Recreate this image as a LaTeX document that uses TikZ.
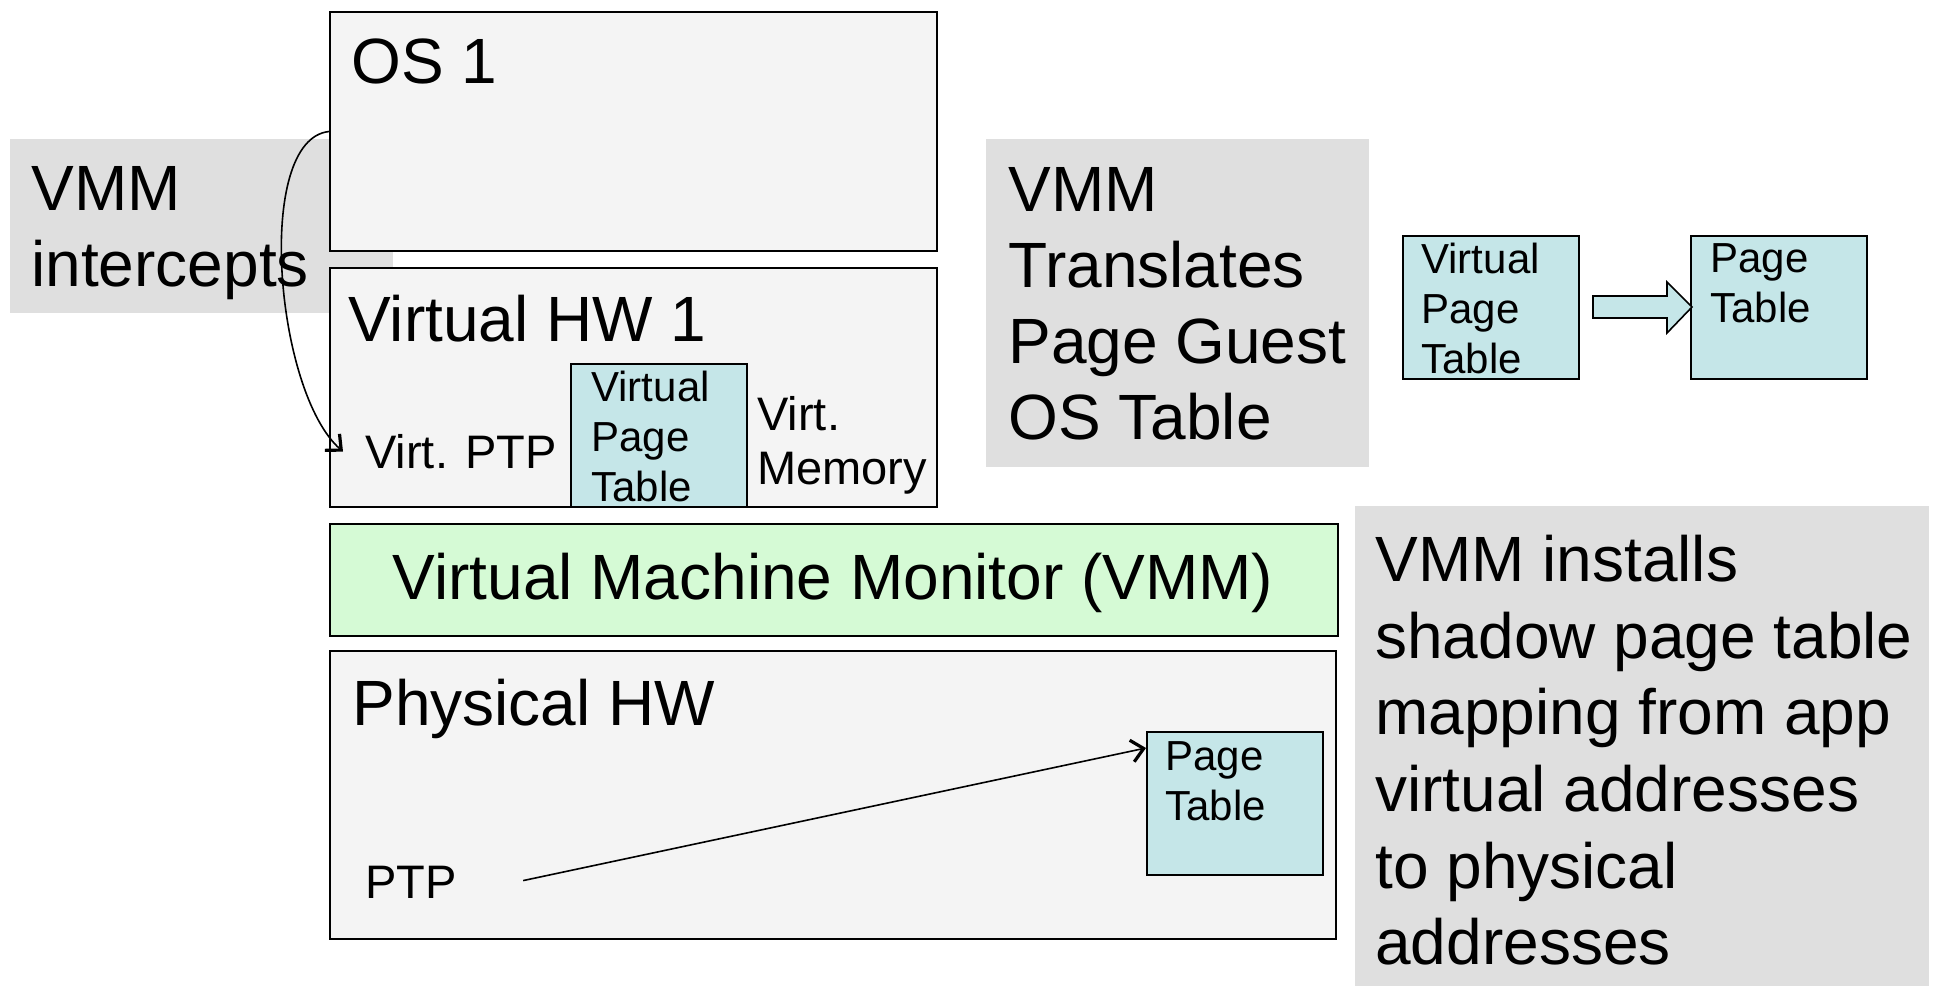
\documentclass[tikz,border=0pt]{standalone}
\usepackage{fontspec}
\setmainfont{Liberation Sans}
\usetikzlibrary{arrows.meta}
\definecolor{boxgray}{HTML}{F4F4F4}
\definecolor{notegray}{HTML}{DFDFDF}
\definecolor{vmmgreen}{HTML}{D5FAD5}
\definecolor{ptblue}{HTML}{C5E6E8}
\tikzset{
  hwbox/.style={draw, line width=1pt, fill=boxgray, anchor=north west, inner sep=0pt},
  ptbox/.style={hwbox, fill=ptblue},
  note/.style={fill=notegray, anchor=north west, inner sep=0pt},
  lbl/.style={anchor=north west, inner sep=0pt, align=left},
  big/.style={font=\fontsize{32}{38}\selectfont},
  mid/.style={font=\fontsize{23.5}{27}\selectfont},
  small/.style={font=\fontsize{21}{25}\selectfont},
}
\begin{document}
\begin{tikzpicture}[x=0.5pt, y=-0.5pt, >={Straight Barb[length=6pt,width=11pt,line width=1.6pt]}]
\useasboundingbox (0,0) rectangle (1939,986);
% grey notes
\node[note, minimum width=191.5pt, minimum height=87pt] (gint) at (10,139) {};
\node[note, minimum width=191.5pt, minimum height=164pt] (gtrans) at (986,139) {};
\node[note, minimum width=287pt, minimum height=240pt] (ginst) at (1355,506) {};
\node[lbl, big] (intercepts) at (31,166) {VMM\\intercepts};
\node[lbl, big] (translates) at (1008,167) {VMM\\Translates\\Page Guest\\OS Table};
\node[lbl, font=\fontsize{32}{38.3}\selectfont] (installs) at (1375,535)
  {VMM installs\\shadow page table\\mapping from app\\virtual addresses\\to physical\\addresses};
% stack
\node[hwbox, minimum width=303.5pt, minimum height=119.5pt] (os) at (329,11) {};
\node[hwbox, minimum width=303.5pt, minimum height=119.5pt] (vhw) at (329,267) {};
\node[hwbox, fill=vmmgreen, minimum width=504pt, minimum height=56pt] (vmm) at (329,523) {};
\node[hwbox, minimum width=503pt, minimum height=144pt] (phys) at (329,650) {};
\node[lbl, big] (oslbl) at (351,38) {OS 1};
\node[lbl, big] (vhwlbl) at (348,295) {Virtual HW 1};
\node[anchor=base, inner sep=0pt, font=\fontsize{32}{38}\selectfont] (vmmlbl) at (833,599) {Virtual Machine Monitor (VMM)};
\node[lbl, big] (physlbl) at (352,679) {Physical HW};
% virtual hw
\node[ptbox, minimum width=88pt, minimum height=71.5pt] (vpt) at (570,363) {};
\node[lbl, small] (vptlbl) at (591,371) {Virtual\\Page\\Table};
\node[lbl, mid] (vptp) at (365,434) {Virt. PTP};
\node[lbl, mid] (vmem) at (757,396) {Virt.\\Memory};
% physical hw
\node[ptbox, minimum width=88pt, minimum height=71.5pt] (ppt) at (1146,731) {};
\node[lbl, small] (pptlbl) at (1165,741) {Page\\Table};
\node[lbl, mid] (ptp) at (365,866) {PTP};
% translation
\node[ptbox, minimum width=88pt, minimum height=71.5pt] (vptr) at (1402,235) {};
\node[lbl, small] (vptrlbl) at (1421,243) {Virtual\\Page\\Table};
\node[ptbox, minimum width=88pt, minimum height=71.5pt] (ptr) at (1690,235) {};
\node[lbl, small] (ptrlbl) at (1710,243) {Page\\Table};
\draw[line width=0.8pt, fill=ptblue] (1593,296) -- (1667,296) -- (1667,282) -- (1692,307)
  -- (1667,333) -- (1667,318) -- (1593,318) -- cycle;
% connectors
\draw[->, line width=0.8pt] (os.west) .. controls +(-75,8) and +(-68,-60) .. ([xshift=-11pt]vptp.west);
\draw[->, line width=0.8pt] ([xshift=33pt,yshift=1pt]ptp.east) -- ([yshift=-8.5pt]ppt.north west);
\end{tikzpicture}
\end{document}
